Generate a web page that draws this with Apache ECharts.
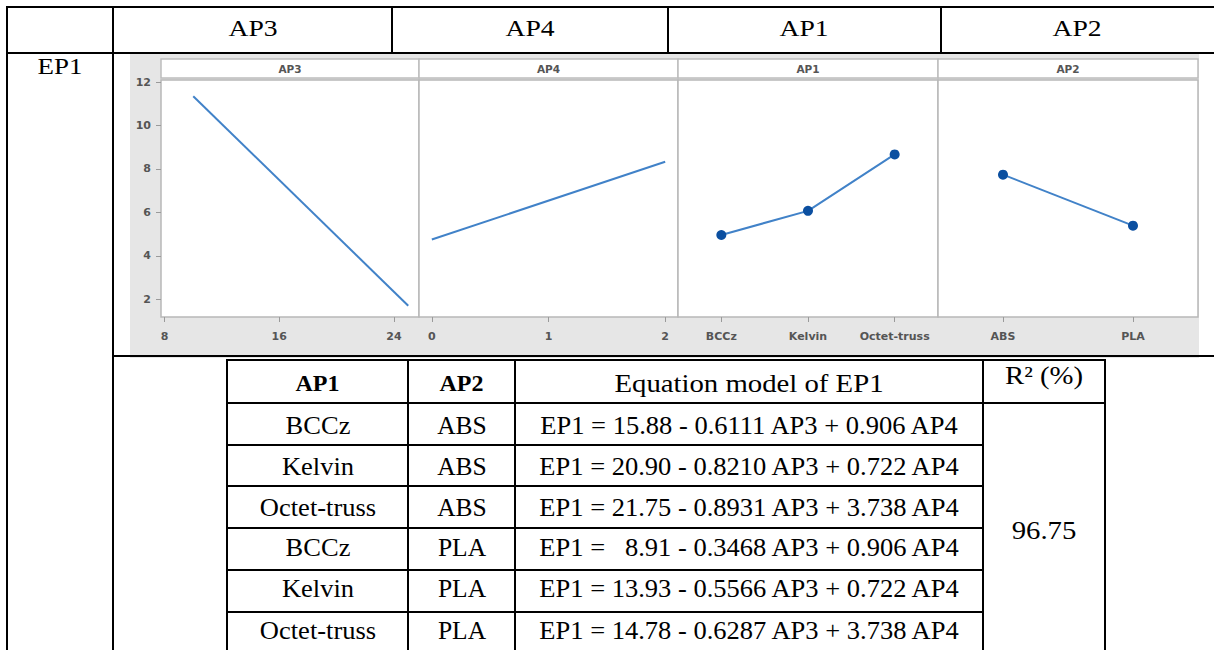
<!DOCTYPE html>
<html><head><meta charset="utf-8">
<script src="https://cdn.jsdelivr.net/npm/echarts@6/dist/echarts.min.js"></script>
<style>
html,body{margin:0;padding:0;background:#fff;width:1214px;height:650px;overflow:hidden;}
#page{position:relative;width:1214px;height:650px;font-family:'Liberation Serif','Times New Roman',serif;color:#000;}
.ln{position:absolute;background:#000;}
.tx{position:absolute;white-space:pre;line-height:1;}
#chart{position:absolute;left:130px;top:54px;width:1069px;height:304px;background:#e6e6e6;}
</style></head><body>
<div id="page"><div id="chart"></div></div>
<script>
// ---------- data ----------
const headerFactors = ['AP3', 'AP4', 'AP1', 'AP2'];
const responseName = 'EP1';
const ap3Levels = [10, 25];
const ap3Means = [11.35, 1.70];
const ap4Levels = [0, 2];
const ap4Means = [4.75, 8.33];
const ap1Categories = ['BCCz', 'Kelvin', 'Octet-truss'];
const ap1Means = [4.96, 6.07, 8.67];
const ap2Categories = ['ABS', 'PLA'];
const ap2Means = [7.74, 5.39];
const ap3TickLabels = [8, 16, 24];
const ap4TickLabels = [0, 1, 2];
const yTickLabels = [2, 4, 6, 8, 10, 12];
const tableHeader = ['AP1', 'AP2', 'Equation model of EP1', 'R\u00B2 (%)'];
const tableAP1 = ['BCCz', 'Kelvin', 'Octet-truss', 'BCCz', 'Kelvin', 'Octet-truss'];
const tableAP2 = ['ABS', 'ABS', 'ABS', 'PLA', 'PLA', 'PLA'];
const equations = [
  'EP1 = 15.88 - 0.6111 AP3 + 0.906 AP4',
  'EP1 = 20.90 - 0.8210 AP3 + 0.722 AP4',
  'EP1 = 21.75 - 0.8931 AP3 + 3.738 AP4',
  'EP1 =   8.91 - 0.3468 AP3 + 0.906 AP4',
  'EP1 = 13.93 - 0.5566 AP3 + 0.722 AP4',
  'EP1 = 14.78 - 0.6287 AP3 + 3.738 AP4'
];
const rSquared = '96.75';

// ---------- table layout ----------
const page = document.getElementById('page');
function hLine(y, x1, x2, t) { t = t || 2; const d = document.createElement('div'); d.className = 'ln';
  d.style.left = x1 + 'px'; d.style.top = (y - t / 2) + 'px'; d.style.width = (x2 - x1) + 'px'; d.style.height = t + 'px'; page.appendChild(d); }
function vLine(x, y1, y2, t) { t = t || 2; const d = document.createElement('div'); d.className = 'ln';
  d.style.left = (x - t / 2) + 'px'; d.style.top = y1 + 'px'; d.style.width = t + 'px'; d.style.height = (y2 - y1) + 'px'; page.appendChild(d); }
function text(s, cx, cy, size, sx, bold) { const d = document.createElement('div'); d.className = 'tx';
  d.textContent = s; d.style.left = cx + 'px'; d.style.top = cy + 'px'; d.style.fontSize = size + 'px';
  d.style.transform = 'translate(-50%,-50%) scaleX(' + sx + ')';
  if (bold) d.style.fontWeight = 'bold'; page.appendChild(d); }

// outer table
hLine(7, 6, 1214); hLine(53, 6, 1214); hLine(356, 113, 1214);
vLine(7, 6, 650); vLine(113, 6, 650);
[392, 668, 941].forEach(x => vLine(x, 6, 53));
const headCenters = [253, 530, 804, 1077];
headerFactors.forEach((h, i) => text(h, headCenters[i], 28, 24, 1.15));
text(responseName, 60, 66, 24, 1.12);

// inner table
const colX = [227, 408, 515, 983, 1105];
const rowY = [360, 403, 445, 486, 528, 570, 612];
hLine(rowY[0], colX[0] - 1, colX[4] + 1); hLine(rowY[1], colX[0], colX[4]);
for (let r = 2; r < rowY.length; r++) hLine(rowY[r], colX[0], colX[3]);
colX.forEach(x => vLine(x, rowY[0] - 1, 650));
const colC = [(colX[0] + colX[1]) / 2, (colX[1] + colX[2]) / 2, (colX[2] + colX[3]) / 2, (colX[3] + colX[4]) / 2];
text(tableHeader[0], colC[0], 383, 24, 1.0, true);
text(tableHeader[1], colC[1], 383, 24, 1.0, true);
text(tableHeader[2], colC[2], 383, 25, 1.15);
text(tableHeader[3], colC[3], 375, 25, 1.15);
const rowC = [425, 466, 507, 547, 588, 630];
for (let i = 0; i < equations.length; i++) {
  text(tableAP1[i], colC[0], rowC[i], 25, 1.06);
  text(tableAP2[i], colC[1], rowC[i], 25, 1.02);
  text(equations[i], colC[2], rowC[i], 25, 1.06);
}
text(rSquared, colC[3], 530, 25, 1.15);

// ---------- chart ----------
const chart = echarts.init(document.getElementById('chart'), null, { renderer: 'svg' });
const panelLeft = [31, 289, 548, 808];
const panelWidth = [258, 259, 260, 260];
const gridTop = 26, gridHeight = 237;
const yMin = 1.18, yMax = 12.1;
const lab = { fontFamily: 'DejaVu Sans, sans-serif', fontSize: 11, color: '#555', fontWeight: 'bold' };
const tick = { show: true, length: 5, lineStyle: { color: '#9a9a9a', width: 1 } };
const lineColor = '#4182c8', dotColor = '#0b4fa0';

const grids = panelLeft.map((l, i) => ({ left: l, top: gridTop, width: panelWidth[i], height: gridHeight,
  show: true, backgroundColor: '#fff', borderColor: '#b8b8b8', borderWidth: 1.5, outerBoundsMode: 'none' }));
const yAxes = panelLeft.map((l, i) => ({ type: 'value', gridIndex: i, min: yMin, max: yMax,
  axisLine: { show: false }, splitLine: { show: false },
  axisTick: i === 0 ? Object.assign({ customValues: yTickLabels }, tick) : { show: false },
  axisLabel: i === 0 ? Object.assign({ customValues: yTickLabels, margin: 10 }, lab) : { show: false } }));
const xBase = { axisLine: { show: false }, splitLine: { show: false } };
const xAxes = [
  Object.assign({ type: 'value', gridIndex: 0, min: 7.75, max: 25.75,
    axisTick: Object.assign({ customValues: ap3TickLabels }, tick),
    axisLabel: Object.assign({ customValues: ap3TickLabels, margin: 14 }, lab) }, xBase),
  Object.assign({ type: 'value', gridIndex: 1, min: -0.11, max: 2.11,
    axisTick: Object.assign({ customValues: ap4TickLabels }, tick),
    axisLabel: Object.assign({ customValues: ap4TickLabels, margin: 14 }, lab) }, xBase),
  Object.assign({ type: 'category', gridIndex: 2, data: ap1Categories, boundaryGap: true,
    axisTick: Object.assign({ alignWithLabel: true }, tick),
    axisLabel: Object.assign({ margin: 14, interval: 0 }, lab) }, xBase),
  Object.assign({ type: 'category', gridIndex: 3, data: ap2Categories, boundaryGap: true,
    axisTick: Object.assign({ alignWithLabel: true }, tick),
    axisLabel: Object.assign({ margin: 14, interval: 0 }, lab) }, xBase)
];
const lineStyle = { color: lineColor, width: 2 };
const series = [
  { type: 'line', xAxisIndex: 0, yAxisIndex: 0, data: ap3Levels.map((x, i) => [x, ap3Means[i]]), showSymbol: false, lineStyle: lineStyle },
  { type: 'line', xAxisIndex: 1, yAxisIndex: 1, data: ap4Levels.map((x, i) => [x, ap4Means[i]]), showSymbol: false, lineStyle: lineStyle },
  { type: 'line', xAxisIndex: 2, yAxisIndex: 2, data: ap1Means, symbol: 'circle', symbolSize: 10, itemStyle: { color: dotColor }, lineStyle: lineStyle },
  { type: 'line', xAxisIndex: 3, yAxisIndex: 3, data: ap2Means, symbol: 'circle', symbolSize: 10, itemStyle: { color: dotColor }, lineStyle: lineStyle }
];
const stripGraphics = [];
panelLeft.forEach((l, i) => {
  stripGraphics.push({ type: 'rect', shape: { x: l, y: 5, width: panelWidth[i], height: 19 },
    style: { fill: '#fff', stroke: '#bdbdbd', lineWidth: 1.5 } });
  stripGraphics.push({ type: 'text', x: l + panelWidth[i] / 2, y: 14.5,
    style: { text: headerFactors[i], fill: '#555', font: 'bold 10.5px "DejaVu Sans", sans-serif', align: 'center', verticalAlign: 'middle' } });
});
chart.setOption({ animation: false, grid: grids, xAxis: xAxes, yAxis: yAxes, series: series, graphic: stripGraphics });
</script>
</body></html>
